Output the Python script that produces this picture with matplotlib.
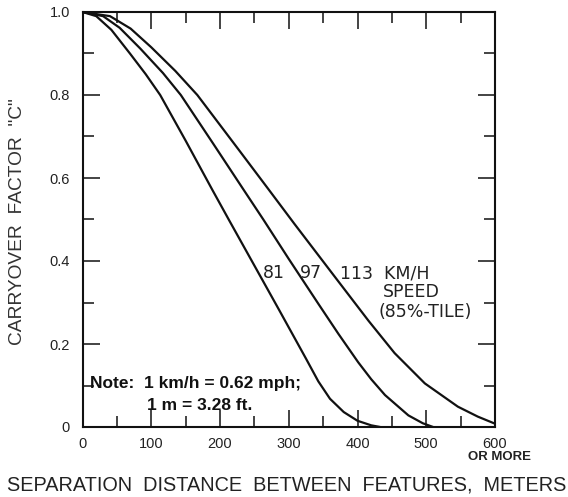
import matplotlib
matplotlib.use("Agg")
import matplotlib.pyplot as plt
from matplotlib.ticker import MultipleLocator

plt.rcParams['font.family'] = ['Liberation Sans', 'DejaVu Sans']

# Data (distance in m, carryover factor C)
d81 = [0, 20, 42, 69, 92, 113, 150, 189, 213, 248, 286, 300, 325, 343, 360, 380, 400, 420, 433]
c81 = [1.0, 0.99, 0.957, 0.9, 0.85, 0.8, 0.69, 0.571, 0.499, 0.395, 0.282, 0.24, 0.165, 0.11, 0.068, 0.036, 0.015, 0.004, 0.0]

d97 = [0, 30, 54, 84, 117, 143, 190, 235, 263, 300, 343, 372, 401, 420, 440, 474, 495, 510]
c97 = [1.0, 0.99, 0.962, 0.912, 0.853, 0.8, 0.683, 0.57, 0.5, 0.405, 0.297, 0.225, 0.156, 0.115, 0.077, 0.028, 0.009, 0.0]

d113 = [0, 40, 70, 100, 135, 167, 230, 270, 308, 367, 416, 454, 498, 546, 575, 600]
c113 = [1.0, 0.99, 0.96, 0.915, 0.858, 0.8, 0.662, 0.574, 0.49, 0.362, 0.256, 0.178, 0.105, 0.049, 0.025, 0.008]

xticks = [0, 100, 200, 300, 400, 500, 600]
xticklabels = ["0", "100", "200", "300", "400", "500", "600"]
yticks = [0, 0.2, 0.4, 0.6, 0.8, 1.0]
yticklabels = ["0", "0.2", "0.4", "0.6", "0.8", "1.0"]

fig = plt.figure(figsize=(5.68, 4.97), dpi=100)
W, H = 568, 497
x0, x1, y0, y1 = 82.5, 495, 12, 427
ax = fig.add_axes([x0 / W, (H - y1) / H, (x1 - x0) / W, (y1 - y0) / H])

for d, c in [(d81, c81), (d97, c97), (d113, c113)]:
    ax.plot(d, c, color='#111111', lw=1.6, solid_capstyle='round', solid_joinstyle='round')

ax.set_xlim(0, 600)
ax.set_ylim(0, 1.0)
ax.set_xticks(xticks)
ax.set_xticklabels(xticklabels)
ax.set_yticks(yticks)
ax.set_yticklabels(yticklabels)
ax.xaxis.set_minor_locator(MultipleLocator(50))
ax.yaxis.set_minor_locator(MultipleLocator(0.1))
ax.tick_params(which='both', direction='in', top=True, right=True,
               color='#111111', width=1.1, labelsize=10.5, labelcolor='#222222')
ax.tick_params(axis='y', which='major', length=12, pad=9)
ax.tick_params(axis='x', which='major', length=12, pad=7)
ax.tick_params(which='minor', length=8)
for s in ax.spines.values():
    s.set_linewidth(1.5)
    s.set_color('#111111')

ax.text(607, -0.072, "OR MORE", fontsize=9.5, fontweight='bold', ha='center', va='center',
        color='#222222', clip_on=False)

fig.text(18 / W, 1 - 222 / H, 'CARRYOVER  FACTOR  "C"', rotation=90, ha='center', va='center',
         fontsize=13.8, color='#333333')
fig.text(287 / W, 1 - 485 / H, "SEPARATION  DISTANCE  BETWEEN  FEATURES,  METERS",
         ha='center', va='center', fontsize=14.3, color='#222222')

lab_kw = dict(fontsize=12.5, color='#222222', va='center', family=['DejaVu Sans'])
ax.text(262, 0.371, "81", ha='left', **lab_kw)
ax.text(316, 0.371, "97", ha='left', **lab_kw)
ax.text(374, 0.371, "113  KM/H", ha='left', **lab_kw)
ax.text(478, 0.325, "SPEED", ha='center', **lab_kw)
ax.text(499, 0.277, "(85%-TILE)", ha='center', **lab_kw)

ax.text(11, 0.106, "Note:  1 km/h = 0.62 mph;", fontsize=12.5, fontweight='bold',
        color='#111111', ha='left', va='center')
ax.text(94, 0.053, "1 m = 3.28 ft.", fontsize=12.5, fontweight='bold',
        color='#111111', ha='left', va='center')

fig.savefig("out.png", dpi=100)
